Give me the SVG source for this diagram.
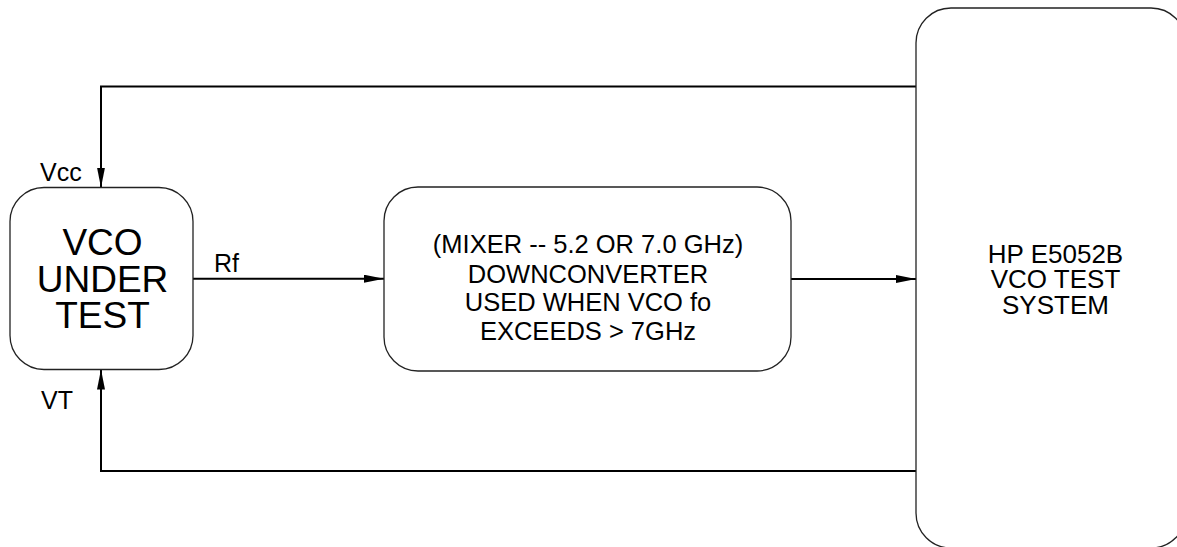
<svg xmlns="http://www.w3.org/2000/svg" width="1177" height="547" viewBox="0 0 1177 547">
<style>
.box{fill:#fff;stroke:#222;stroke-width:1.3}
.wire{fill:none;stroke:#000;stroke-width:2}
text{font-family:"Liberation Sans",Arial,sans-serif;fill:#000}
.big{font-size:37px;text-anchor:middle}
.mid{font-size:25.5px;text-anchor:middle}
.lbl{font-size:25px}
</style>
<defs>
<marker id="arr" markerUnits="userSpaceOnUse" markerWidth="20" markerHeight="8" refX="20" refY="4" orient="auto">
<path d="M0,0 L20,4 L0,8 z" fill="#000"/>
</marker>
</defs>
<g id="connectors">
<path class="wire" d="M916,86.5 H101 V187.5" marker-end="url(#arr)"/>
<path class="wire" d="M916,471 H101 V369.5" marker-end="url(#arr)"/>
<path class="wire" d="M193,278.7 H384" marker-end="url(#arr)"/>
<path class="wire" d="M791,279 H916" marker-end="url(#arr)"/>
</g>
<g id="vco">
<rect class="box" x="10" y="187.5" width="183" height="182" rx="34" ry="34"/>
<text class="big" x="102.5" y="255">VCO</text>
<text class="big" x="102.5" y="291.5">UNDER</text>
<text class="big" x="102.5" y="328">TEST</text>
</g>
<g id="mixer">
<rect class="box" x="384" y="187" width="407" height="184" rx="34" ry="34"/>
<text class="mid" x="588" y="253">(MIXER -- 5.2 OR 7.0 GHz)</text>
<text class="mid" x="588" y="282.5">DOWNCONVERTER</text>
<text class="mid" x="588" y="311">USED WHEN VCO fo</text>
<text class="mid" x="588" y="340">EXCEEDS &gt; 7GHz</text>
</g>
<g id="hp">
<rect class="box" x="916" y="8" width="270" height="540" rx="35" ry="35"/>
<text class="mid" x="1055.5" y="262.5" style="font-size:26px">HP E5052B</text>
<text class="mid" x="1055.5" y="287.5" style="font-size:26px">VCO TEST</text>
<text class="mid" x="1055.5" y="314" style="font-size:26px">SYSTEM</text>
</g>
<g id="labels">
<text class="lbl" x="40" y="181">Vcc</text>
<text class="lbl" x="41" y="409">VT</text>
<text class="lbl" x="214" y="271.5">Rf</text>
</g>
</svg>
